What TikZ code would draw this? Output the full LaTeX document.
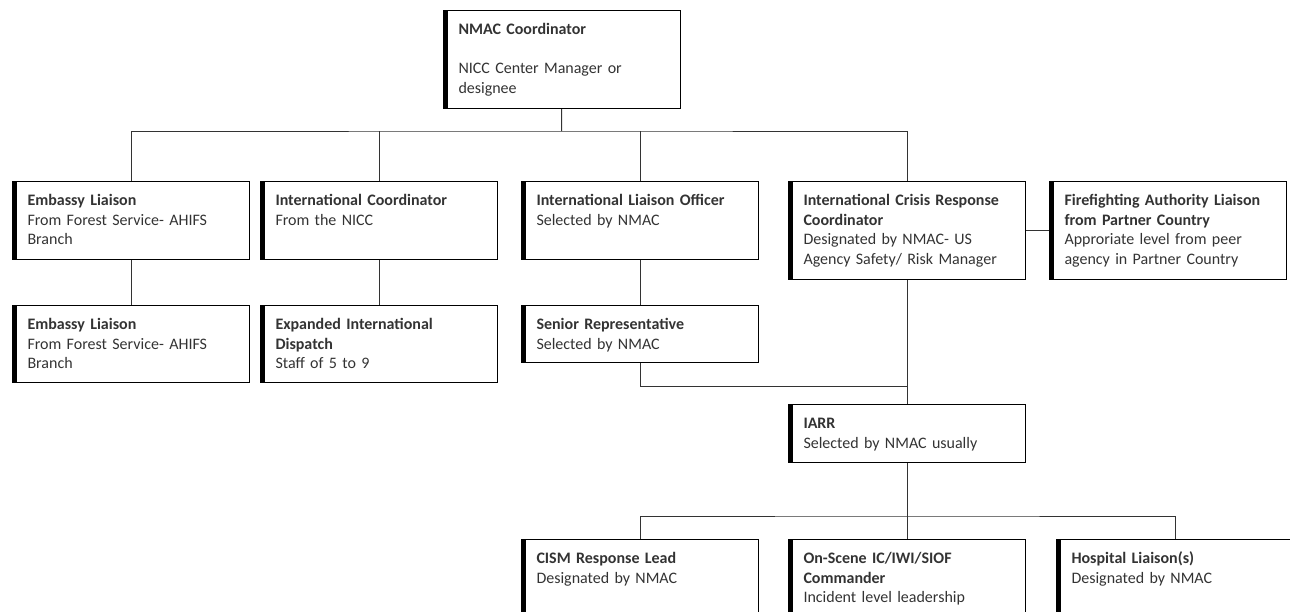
\documentclass[tikz,border=0pt]{standalone}
\usepackage{fontspec}
\setmainfont{Carlito}
\newcommand{\orgfont}{\fontsize{16}{19.5}\selectfont}

\begin{document}
\begin{tikzpicture}[x=1pt,y=-1pt,
    orgbox/.style={draw=black, line width=1pt, anchor=north west,
      text width=207pt, align=left, inner xsep=15pt, inner ysep=12pt,
      text height=12pt, text depth=#1-36pt, font=\orgfont, text=black!80,
      path picture={\fill[black] (path picture bounding box.north west)
        rectangle ([xshift=4.5pt]path picture bounding box.south west);}}]
    % Org chart TiKZ Style
    \tikzstyle{link}=[draw=black!80, line width=1pt]
    \useasboundingbox (0,0) rectangle (1290,611);

    % Nodes, positions, and labels
    \node[orgbox=98pt] (nmac) at (443,10)
      {\textbf{NMAC Coordinator}\\[19.5pt]NICC Center Manager or\\designee};
    \node[orgbox=78pt] (emb1) at (12,181)
      {\textbf{Embassy Liaison}\\From Forest Service- AHIFS\\Branch};
    \node[orgbox=78pt] (intc) at (260,181)
      {\textbf{International Coordinator}\\From the NICC};
    \node[orgbox=78pt] (ilo)  at (521,181)
      {\textbf{International Liaison Officer}\\Selected by NMAC};
    \node[orgbox=98pt] (icrc) at (788,181)
      {\textbf{International Crisis Response}\\\textbf{Coordinator}\\Designated by NMAC- US\\Agency Safety/ Risk Manager};
    \node[orgbox=98pt] (ffal) at (1049,181)
      {\textbf{Firefighting Authority Liaison}\\\textbf{from Partner Country}\\Approriate level from peer\\agency in Partner Country};
    \node[orgbox=77pt] (emb2) at (12,305)
      {\textbf{Embassy Liaison}\\From Forest Service- AHIFS\\Branch};
    \node[orgbox=77pt] (eid)  at (260,305)
      {\textbf{Expanded International}\\\textbf{Dispatch}\\Staff of 5 to 9};
    \node[orgbox=57pt] (srep) at (521,305)
      {\textbf{Senior Representative}\\Selected by NMAC};
    \node[orgbox=58pt] (iarr) at (788,404)
      {\textbf{IARR}\\Selected by NMAC usually};
    \node[orgbox=98pt] (cism) at (521,539)
      {\textbf{CISM Response Lead}\\Designated by NMAC};
    \node[orgbox=98pt] (osc)  at (788,539)
      {\textbf{On-Scene IC/IWI/SIOF}\\\textbf{Commander}\\Incident level leadership};
    \node[orgbox=98pt] (hosp) at (1056,539)
      {\textbf{Hospital Liaison(s)}\\Designated by NMAC};

    % Junctions
    \coordinate (topbus) at (561.5,131);
    \coordinate (merge)  at (906.5,386);
    \coordinate (lowbus) at (906.5,516);

    % Edges
    \path[link]
    (emb1) edge (emb2)
    (intc) edge (eid)
    (ilo)  edge (srep)
    (icrc) edge (ffal)
           edge (iarr)
    (iarr) edge (osc);
    \draw[link] (nmac) -- (topbus);
    \draw[link] (emb1) |- (topbus) -| (icrc);
    \draw[link] (intc) -- (intc |- topbus);
    \draw[link] (ilo) -- (ilo |- topbus);
    \draw[link] (srep) |- (merge);
    \draw[link] (cism) |- (lowbus) -| (hosp);

\end{tikzpicture}
\end{document}
